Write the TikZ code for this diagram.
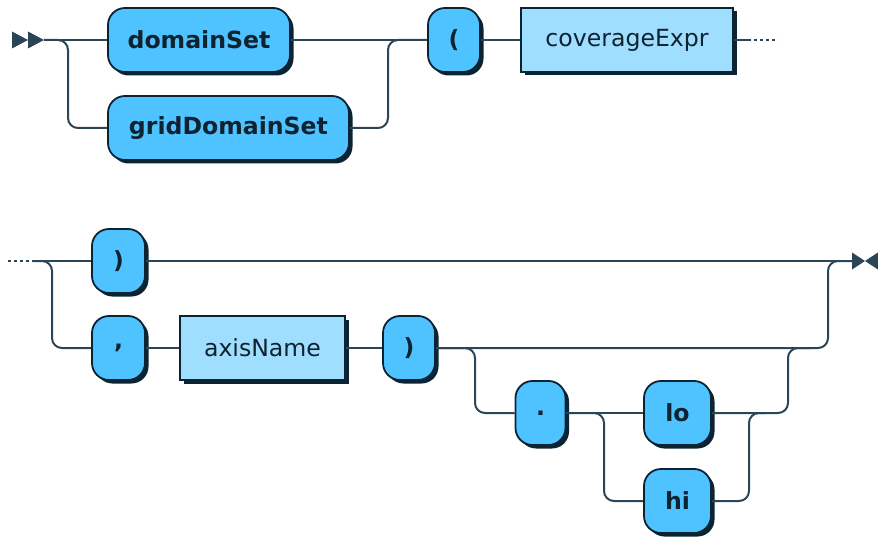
\documentclass[tikz,border=0pt]{standalone}
\usepackage{fontspec}
\setmainfont{DejaVu Sans}
\usetikzlibrary{shadows}
\definecolor{termfill}{HTML}{4FC3FF}
\definecolor{ntfill}{HTML}{A0DEFF}
\definecolor{linecol}{HTML}{2A4556}
\definecolor{shadowcol}{HTML}{0B2433}
\definecolor{txtcol}{HTML}{0E2230}
\tikzset{
  wire/.style={draw=linecol, line width=2pt},
  rc/.style={rounded corners=10pt},
  dots/.style={draw=linecol, line width=1.6pt, dash pattern=on 3pt off 3pt},
  term/.style={draw=shadowcol, line width=1.8pt, fill=termfill, rounded corners=17pt,
    minimum height=64pt, inner sep=0pt, text=txtcol,
    font=\fontsize{23.6}{28}\selectfont\bfseries,
    drop shadow={shadow xshift=3.5pt, shadow yshift=-3.5pt, fill=shadowcol, opacity=1}},
  nterm/.style={draw=shadowcol, line width=1.8pt, fill=ntfill,
    minimum height=64pt, inner sep=0pt, text=txtcol,
    font=\fontsize{23.6}{28}\selectfont,
    drop shadow={shadow xshift=3.5pt, shadow yshift=-3.5pt, fill=shadowcol, opacity=1}},
}
\begin{document}
\begin{tikzpicture}[x=1pt,y=-1pt]
\useasboundingbox (0,0) rectangle (878,540);
% row 1
\node[term, minimum width=182pt] (domainSet) at (199,40) {domainSet};
\node[term, minimum width=241pt] (gridDomainSet) at (228.5,128) {gridDomainSet};
\node[term, minimum width=52pt] (lparen) at (454,40) {(};
\node[nterm, minimum width=212pt] (coverageExpr) at (627,40) {coverageExpr};
\coordinate (s1) at (44,40);
\coordinate (c1) at (748,40);
\coordinate (c2) at (778,40);
\fill[linecol] (12,31.5) -- (28,40) -- (12,48.5) -- cycle;
\fill[linecol] (28,31.5) -- (44,40) -- (28,48.5) -- cycle;
\draw[wire] (s1) -- (domainSet.west);
\draw[wire, rc] (s1) -- (68,40) -- (68,128) -- (gridDomainSet.west);
\draw[wire, rc] (gridDomainSet.east) -- (388,128) -- (388,40) -- (lparen.west);
\draw[wire] (domainSet.east) -- (lparen.west);
\draw[wire] (lparen.east) -- (coverageExpr.west);
\draw[wire] (coverageExpr.east) -- (c1);
\draw[dots] (c1) -- (c2);
% row 2
\node[term, minimum width=53pt] (rp1) at (118.5,261) {)};
\node[term, minimum width=53pt] (comma) at (118.5,348) {,};
\node[nterm, minimum width=165pt] (axisName) at (262.5,348) {axisName};
\node[term, minimum width=52pt] (rp2) at (409,348) {)};
\node[term, minimum width=50pt] (dot) at (540.5,413) {.};
\node[term, minimum width=67pt] (lo) at (677.5,413) {lo};
\node[term, minimum width=67pt] (hi) at (677.5,501) {hi};
\coordinate (d0) at (8,261);
\coordinate (d1) at (33,261);
\coordinate (e0) at (852,261);
\draw[dots] (d0) -- (d1);
\draw[wire] (d1) -- (rp1.west);
\draw[wire, rc] (d1) -- (52,261) -- (52,348) -- (comma.west);
\draw[wire] (rp1.east) -- (e0);
\draw[wire] (comma.east) -- (axisName.west);
\draw[wire] (axisName.east) -- (rp2.west);
\draw[wire, rc] (rp2.east) -- (828,348) -- (828,261) -- (e0);
\draw[wire, rc] (rp2.east) -- (475,348) -- (475,413) -- (dot.west);
\draw[wire] (dot.east) -- (lo.west);
\draw[wire, rc] (dot.east) -- (604,413) -- (604,501) -- (hi.west);
\draw[wire, rc] (hi.east) -- (749,501) -- (749,413) -- (765,413);
\draw[wire, rc] (lo.east) -- (788,413) -- (788,348) -- (810,348);
\fill[linecol] (852,252.5) -- (865,261) -- (852,269.5) -- cycle;
\fill[linecol] (878,252.5) -- (865,261) -- (878,269.5) -- cycle;
\end{tikzpicture}
\end{document}
